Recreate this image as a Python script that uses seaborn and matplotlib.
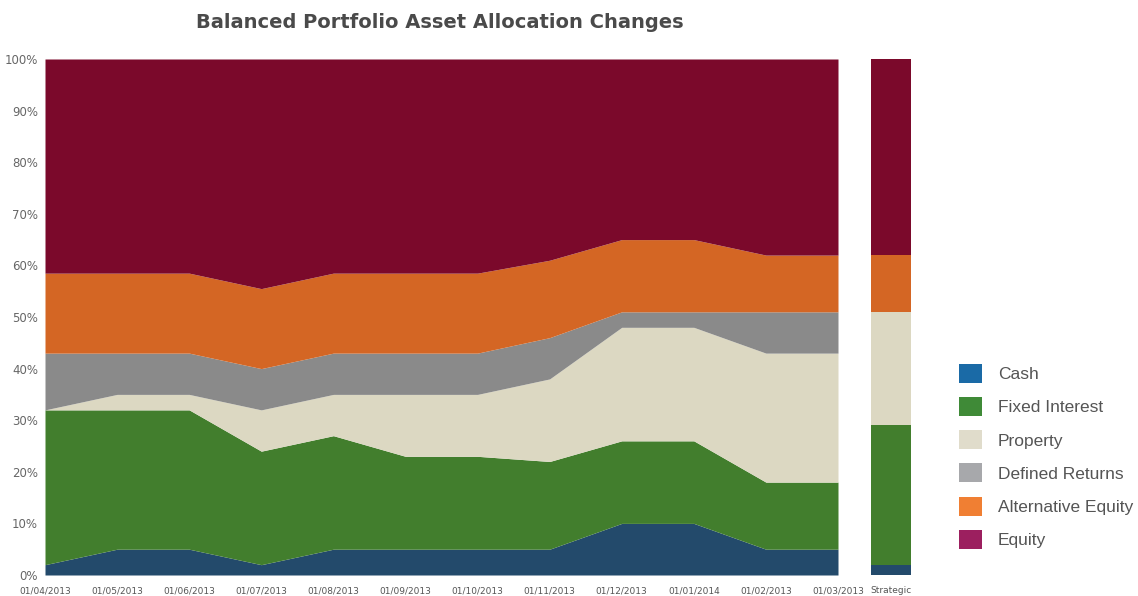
import numpy as np
import pandas as pd
import matplotlib
matplotlib.use("Agg")
import matplotlib.pyplot as plt
from matplotlib.patches import Patch
from matplotlib import font_manager
import seaborn as sns

dates = ["01/04/2013", "01/05/2013", "01/06/2013", "01/07/2013", "01/08/2013",
         "01/09/2013", "01/10/2013", "01/11/2013", "01/12/2013", "01/01/2014",
         "01/02/2013", "01/03/2013"]
categories = ["Cash", "Fixed Interest", "Property", "Defined Returns",
              "Alternative Equity", "Equity"]
cash = [2, 5, 5, 2, 5, 5, 5, 5, 10, 10, 5, 5]
fixed_interest = [30, 27, 27, 22, 22, 18, 18, 17, 16, 16, 13, 13]
property_ = [0, 3, 3, 8, 8, 12, 12, 16, 22, 22, 25, 25]
defined_returns = [11, 8, 8, 8, 8, 8, 8, 8, 3, 3, 8, 8]
alternative_equity = [15.5, 15.5, 15.5, 15.5, 15.5, 15.5, 15.5, 15, 14, 14, 11, 11]
equity = [41.5, 41.5, 41.5, 44.5, 41.5, 41.5, 41.5, 39, 35, 35, 38, 38]
strategic = [2, 27, 22, 0, 11, 38]
strategic_label = "Strategic"
y_ticks = [0, 10, 20, 30, 40, 50, 60, 70, 80, 90, 100]

area_colors = ["#234a6b", "#427e2d", "#dcd8c2", "#8a8a8a", "#d46624", "#7b092b"]
legend_colors = ["#1a6aa6", "#3f8a37", "#e0dccb", "#a7a8ab", "#f07f33", "#9c1f5f"]

sns.set_theme(style="white")
plt.rcParams['font.family'] = ['DejaVu Sans']

names = {f.name for f in font_manager.fontManager.ttflist}
legend_font = "Liberation Sans Narrow" if "Liberation Sans Narrow" in names else "Liberation Sans"

W, H = 1138, 596
fig = plt.figure(figsize=(W / 100, H / 100), dpi=100)
fig.patch.set_facecolor("white")

bottom_px, top_px = 575, 59
ax = fig.add_axes([45 / W, (H - bottom_px) / H, (838 - 45) / W, (bottom_px - top_px) / H])
ax2 = fig.add_axes([871 / W, (H - bottom_px) / H, (911 - 871) / W, (bottom_px - top_px) / H])

series = [cash, fixed_interest, property_, defined_returns, alternative_equity, equity]
x = np.arange(len(dates))
ax.stackplot(x, *series, colors=area_colors, linewidth=0)
ax.set_xlim(0, len(dates) - 1)
ax.set_ylim(0, 100)
ax.set_xticks(x)
ax.set_xticklabels(dates, fontsize=6.5, color="#555555")
ax.set_yticks(y_ticks)
ax.set_yticklabels([f"{v}%" for v in y_ticks], fontsize=8.5, color="#666666")
ax.tick_params(axis="x", length=0, pad=8)
ax.tick_params(axis="y", length=0, pad=5)
for s in ax.spines.values():
    s.set_visible(False)

bottoms = np.cumsum([0] + strategic[:-1])
for i, (v, b) in enumerate(zip(strategic, bottoms)):
    ax2.bar([0], [v], bottom=[b], width=1.0, color=area_colors[i], linewidth=0)
ax2.set_xlim(-0.5, 0.5)
ax2.set_ylim(0, 100)
ax2.set_yticks([])
ax2.set_xticks([0])
ax2.set_xticklabels([strategic_label], fontsize=6.5, color="#555555")
ax2.tick_params(axis="x", length=0, pad=8)
for s in ax2.spines.values():
    s.set_visible(False)

fig.text(440 / W, 1 - 22 / H, "Balanced Portfolio Asset Allocation Changes",
         ha="center", va="center", fontsize=14, fontweight="bold", color="#4a4a4a")

handles = [Patch(facecolor=c, edgecolor="none", label=l) for c, l in zip(legend_colors, categories)]
fig.legend(handles=handles, loc="upper left", bbox_to_anchor=(959 / W, 1 - 364 / H),
           frameon=False, prop={"family": legend_font, "size": 12.5},
           handlelength=1.3, handleheight=1.3, handletextpad=0.95, labelspacing=0.82,
           labelcolor="#555555", borderaxespad=0, borderpad=0)

fig.savefig("out.png", dpi=100, facecolor="white")
